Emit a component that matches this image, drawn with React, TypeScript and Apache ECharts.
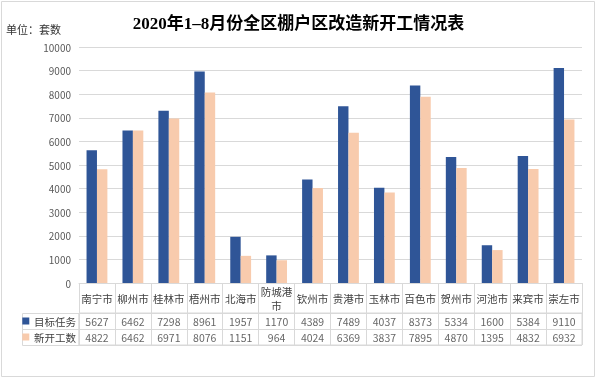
import React, { useEffect, useRef } from "react";
import * as echarts from "echarts";

const categories = ["南宁市", "柳州市", "桂林市", "梧州市", "北海市", "防城港市", "钦州市", "贵港市", "玉林市", "百色市", "贺州市", "河池市", "来宾市", "崇左市"];
const targetTask = [5627, 6462, 7298, 8961, 1957, 1170, 4389, 7489, 4037, 8373, 5334, 1600, 5384, 9110];
const newStarts = [4822, 6462, 6971, 8076, 1151, 964, 4024, 6369, 3837, 7895, 4870, 1395, 4832, 6932];
const seriesNames = ["目标任务", "新开工数"];
const yMin = 0;
const yMax = 10000;
const yInterval = 1000;
const titleText = "2020年1–8月份全区棚户区改造新开工情况表";
const unitText = "单位：套数";

const BLUE = "#2F5597";
const ORANGE = "#F8CBAD";
const GRID_LINE = "#D9D9D9";
const FONT = '"Noto Sans CJK SC", "Noto Sans", sans-serif';

export default function App() {
  const ref = useRef<HTMLDivElement>(null);
  useEffect(() => {
    if (!ref.current) return;
    const chart = echarts.init(ref.current, null, { renderer: "svg" });
    const tableData: any[] = [];
    categories.forEach((c, i) => {
      tableData.push([c, seriesNames[0], targetTask[i]]);
      tableData.push([c, seriesNames[1], newStarts[i]]);
    });
    const gridLeft = 79;
    const gridRight = 15;
    const mainTop = 47;
    const mainHeight = 236;
    const namesRow = 30;
    const rowH = 16;
    const tableTop = mainTop + mainHeight + namesRow;
    chart.setOption({
      animation: false,
      textStyle: { fontFamily: FONT },
      title: {
        text: titleText,
        left: "center",
        top: 10,
        textStyle: {
          fontFamily: '"Liberation Serif", "Noto Sans CJK SC", serif',
          fontWeight: "bold",
          fontSize: 17,
          color: "#000",
        },
      },
      graphic: [
        {
          type: "rect",
          shape: { x: 1.5, y: 1.5, width: 593, height: 375 },
          style: { fill: "none", stroke: GRID_LINE, lineWidth: 1 },
          silent: true,
        },
        {
          type: "text",
          left: 6,
          top: 23,
          style: { text: unitText, fontSize: 11, fill: "#333", fontFamily: FONT },
        },
        {
          type: "rect",
          shape: { x: 22.5, y: tableTop + 0.5, width: gridLeft - 22.5, height: rowH * 2 },
          style: { fill: "none", stroke: GRID_LINE, lineWidth: 1 },
          silent: true,
        },
        {
          type: "line",
          shape: { x1: 22.5, y1: tableTop + rowH + 0.5, x2: gridLeft, y2: tableTop + rowH + 0.5 },
          style: { stroke: GRID_LINE, lineWidth: 1 },
          silent: true,
        },
      ],
      grid: [
        { left: gridLeft, right: gridRight, top: mainTop, height: mainHeight },
        {
          left: gridLeft,
          right: gridRight,
          top: tableTop,
          height: rowH * 2,
          show: true,
          borderColor: GRID_LINE,
          borderWidth: 1,
        },
      ],
      xAxis: [
        {
          type: "category",
          gridIndex: 0,
          data: categories,
          axisLine: { lineStyle: { color: GRID_LINE } },
          axisTick: { show: true, length: namesRow + rowH * 2, lineStyle: { color: GRID_LINE }, interval: 0 },
          axisLabel: {
            interval: 0,
            margin: 15,
            verticalAlign: "middle",
            fontSize: 10.5,
            lineHeight: 14,
            color: "#404040",
            formatter: (v: string) => (v.length > 3 ? v.slice(0, 3) + "\n" + v.slice(3) : v),
          },
        },
        {
          type: "category",
          gridIndex: 1,
          data: categories,
          axisLine: { show: false },
          axisTick: { show: false },
          axisLabel: { show: false },
          splitLine: { show: true, interval: 0, lineStyle: { color: GRID_LINE } },
        },
      ],
      yAxis: [
        {
          type: "value",
          gridIndex: 0,
          min: yMin,
          max: yMax,
          interval: yInterval,
          axisLine: { show: false },
          axisTick: { show: false },
          axisLabel: { fontSize: 10, color: "#595959", margin: 8, formatter: (v: number) => String(v) },
          splitLine: { lineStyle: { color: GRID_LINE } },
        },
        {
          type: "category",
          gridIndex: 1,
          inverse: true,
          data: seriesNames,
          axisLine: { show: false },
          axisTick: { show: false },
          splitLine: { show: true, interval: 0, lineStyle: { color: GRID_LINE } },
          axisLabel: {
            margin: 3,
            fontSize: 10.5,
            color: "#404040",
            formatter: (v: string, i: number) => (i === 0 ? "{b|}  " + v : "{o|}  " + v),
            rich: {
              b: { width: 7, height: 7, backgroundColor: BLUE },
              o: { width: 7, height: 7, backgroundColor: ORANGE },
            },
          },
        },
      ],
      series: [
        {
          name: seriesNames[0],
          type: "bar",
          xAxisIndex: 0,
          yAxisIndex: 0,
          data: targetTask,
          barWidth: "29%",
          barGap: "0%",
          itemStyle: { color: BLUE },
        },
        {
          name: seriesNames[1],
          type: "bar",
          xAxisIndex: 0,
          yAxisIndex: 0,
          data: newStarts,
          barWidth: "29%",
          barGap: "0%",
          itemStyle: { color: ORANGE },
        },
        {
          type: "scatter",
          xAxisIndex: 1,
          yAxisIndex: 1,
          data: tableData,
          symbolSize: 1,
          silent: true,
          itemStyle: { color: "transparent" },
          label: {
            show: true,
            position: "inside",
            fontSize: 10.5,
            color: "#404040",
            formatter: (p: any) => String(p.value[2]),
          },
        },
      ],
    });
    return () => chart.dispose();
  }, []);
  return <div ref={ref} style={{ position: "fixed", left: 0, top: 0, width: 597, height: 380 }} />;
}
